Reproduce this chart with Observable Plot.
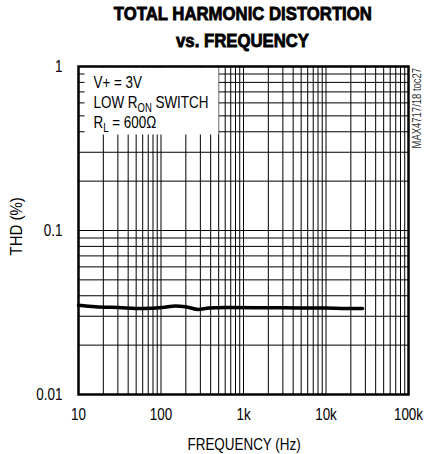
<!DOCTYPE html>
<html>
<head>
<meta charset="utf-8">
<script src="https://cdn.jsdelivr.net/npm/d3@7"></script>
<script src="https://cdn.jsdelivr.net/npm/@observablehq/plot@0.6"></script>
<style>
  html, body { margin: 0; padding: 0; background: white; }
  #title {
    width: 330px; margin-left: 78px; height: 56px; box-sizing: border-box;
    padding-top: 1px; text-align: center;
    font-family: "Liberation Sans", Arial, sans-serif;
    font-weight: bold; font-size: 18px; line-height: 27px; color: black;
    -webkit-text-stroke: 0.8px black;
  }
  #title span { display: inline-block; transform-origin: 50% 50%; white-space: nowrap; }
</style>
</head>
<body>
<div id="title"><span>TOTAL HARMONIC DISTORTION</span><br><span>vs. FREQUENCY</span></div>
<div id="chart"></div>
<script>
// ---- data ----
const freqHz = [10, 16, 30.5, 60, 104, 150, 198, 285, 377, 605, 2000, 5000, 9860, 17200, 27700];
const thdPct = [0.0350, 0.0343, 0.0339, 0.0335, 0.0339, 0.0347, 0.0343, 0.0330, 0.0337, 0.0339, 0.0338, 0.0337, 0.0337, 0.0335, 0.0335];
const xTicks = [10, 100, 1000, 10000, 100000];
const xTickLabels = ["10", "100", "1k", "10k", "100k"];
const yTicks = [0.01, 0.1, 1];
const yTickLabels = ["0.01", "0.1", "1"];
const legendLines = [["V+ = 3V"], ["LOW R", "_ON", " SWITCH"], ["R", "_L", " = 600Ω"]];
const xLabel = "FREQUENCY (Hz)";
const yLabel = "THD (%)";
const noteText = "MAX4717/18 toc27";

// ---- build ----
const font = '"Liberation Sans", Arial, sans-serif';
const narrow = 0.79;
const data = freqHz.map((f, i) => ({f, v: thdPct[i]}));
const xGrid = d3.scaleLog().domain([10, 1e5]).ticks();
const yGrid = d3.scaleLog().domain([0.01, 1]).ticks();
const plain = parts => parts.map(p => p.replace(/^_/, "")).join("");

const legendMarks = legendLines.map((parts, i) =>
  Plot.text([plain(parts)], {
    frameAnchor: "top-left", text: d => d, dx: 15, dy: 21 + 20 * i,
    lineAnchor: "bottom", textAnchor: "start", fontSize: 17, fill: "black"
  })
);

const chart = Plot.plot({
  width: 425, height: 398,
  marginTop: 10, marginBottom: 60, marginLeft: 78, marginRight: 17,
  style: {fontFamily: font, fontSize: "17px", background: "white", color: "black", overflow: "visible"},
  x: {type: "log", domain: [10, 1e5]},
  y: {type: "log", domain: [0.01, 1]},
  marks: [
    Plot.ruleX(xGrid, {stroke: "black", strokeWidth: 1}),
    Plot.ruleY(yGrid, {stroke: "black", strokeWidth: 1}),
    Plot.frame({fill: "white", stroke: null, insetLeft: 6, insetTop: 1, insetRight: 190, insetBottom: 260}),
    ...legendMarks,
    Plot.line(data, {x: "f", y: "v", stroke: "black", strokeWidth: 3.5, curve: "monotone-x"}),
    Plot.frame({stroke: "black", strokeWidth: 2.5}),
    Plot.axisX(xTicks, {tickSize: 0, tickPadding: 13, label: null, fontSize: 17,
      tickFormat: d => xTickLabels[xTicks.indexOf(d)]}),
    Plot.axisY(yTicks, {tickSize: 0, tickPadding: 16, label: null, fontSize: 17,
      tickFormat: d => yTickLabels[yTicks.indexOf(d)]}),
    Plot.text([xLabel], {frameAnchor: "bottom-left", text: d => d, dx: 109, dy: 55, lineAnchor: "bottom", textAnchor: "start", fontSize: 17}),
    Plot.text([yLabel], {frameAnchor: "left", text: d => d, dx: -61.5, dy: 25, rotate: -90, lineAnchor: "middle", textAnchor: "start", fontSize: 17}),
    Plot.text([noteText], {frameAnchor: "top-right", text: d => d, dx: 9, dy: 82, rotate: -90, lineAnchor: "middle", textAnchor: "start", fontSize: 12, fill: "#333"})
  ]
});

// subscripts in legend lines
d3.select(chart).selectAll("text").each(function() {
  const el = this;
  const line = legendLines.find(parts => parts.length > 1 && plain(parts) === el.textContent);
  if (!line) return;
  const sel = d3.select(el);
  sel.text(null);
  line.forEach(p => {
    const sub = p.startsWith("_");
    const t = sel.append("tspan").text(sub ? p.slice(1) : p);
    if (sub) t.attr("font-size", 12).attr("dy", 4);
    else if (el.childNodes.length > 1) t.attr("dy", -4);
  });
});

document.getElementById("chart").appendChild(chart);

// narrow (condensed) lettering like the original
d3.select(chart).selectAll("text").each(function() {
  const len = this.getComputedTextLength();
  if (len > 0) {
    const k = this.textContent === yLabel ? 0.88 : narrow;
    this.setAttribute("textLength", (len * k).toFixed(2));
    this.setAttribute("lengthAdjust", "spacingAndGlyphs");
  }
});
const spans = document.querySelectorAll("#title span");
const w = spans[0].getBoundingClientRect().width;
spans.forEach(s => s.style.transform = `scaleX(${258 / w})`);
</script>
</body>
</html>
